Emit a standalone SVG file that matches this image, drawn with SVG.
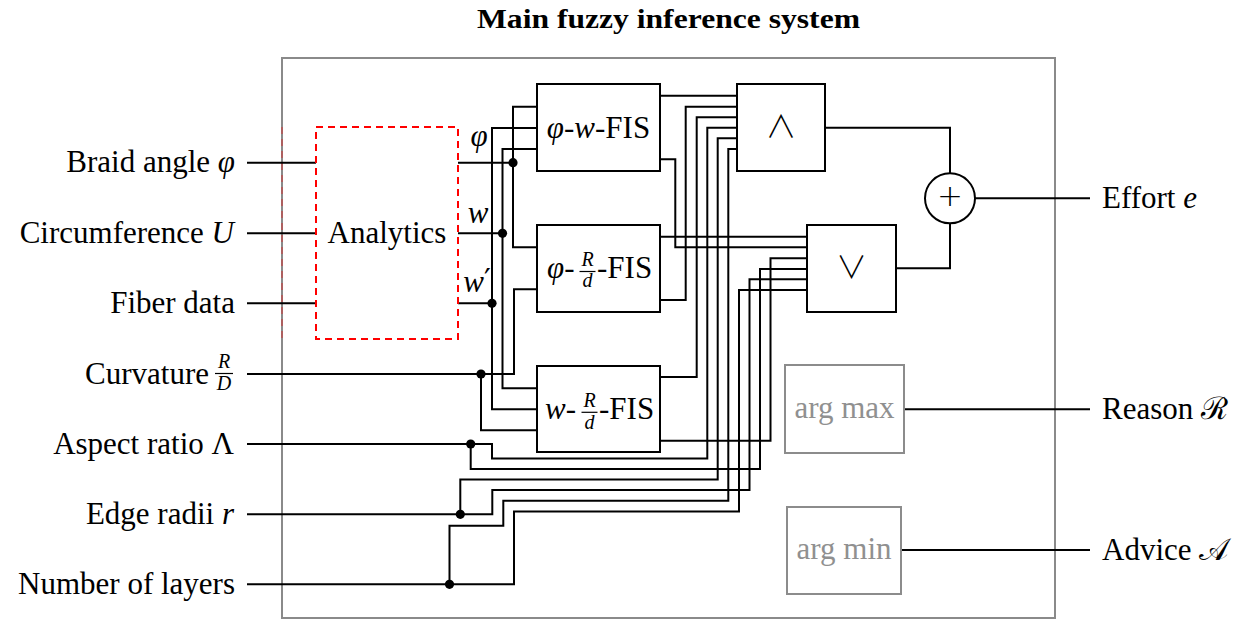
<svg xmlns="http://www.w3.org/2000/svg" width="1234" height="621" viewBox="0 0 1234 621">
  <defs>
    <style>
      .frame{fill:none;stroke:#8a8a8a;stroke-width:2}
      .blk{fill:#fff;stroke:#000;stroke-width:2}
      .ghost{fill:#fff;stroke:#8c8c8c;stroke-width:2}
      .dash{fill:none;stroke:#ff0000;stroke-width:2;stroke-dasharray:7 5}
      .wire{fill:none;stroke:#000;stroke-width:2;stroke-linejoin:miter}
      .dot{fill:#000}
      .bar{stroke:#000;stroke-width:1.2}
      text{font-family:"Liberation Serif","Times New Roman",serif;font-size:31px;fill:#000}
      .it{font-style:italic}
      .frac{font-size:20px}
      .sym{font-family:"DejaVu Sans",sans-serif;font-weight:200}
      .logic{font-family:"Noto Sans CJK JP","DejaVu Sans",sans-serif;font-weight:300}
      .grey{fill:#909090}
      .title{font-weight:bold;font-size:27px}
    </style>
  </defs>

  <rect width="1234" height="621" fill="#fff"/>

  <!-- title and enclosing system frame -->
  <text class="title" x="668.5" y="28" text-anchor="middle" textLength="383" lengthAdjust="spacingAndGlyphs">Main fuzzy inference system</text>
  <rect class="frame" x="282" y="58" width="773" height="560"/>
  <line x1="282" y1="127" x2="282" y2="339" stroke="#ff0000" stroke-width="2" stroke-dasharray="7 5" opacity="0.3"/>

  <!-- input labels -->
  <g id="inputs">
    <text x="235" y="172" text-anchor="end">Braid angle <tspan class="it">φ</tspan></text>
    <text x="234" y="243" text-anchor="end">Circumference <tspan class="it">U</tspan></text>
    <text x="235" y="313" text-anchor="end">Fiber data</text>
    <text x="209" y="384" text-anchor="end">Curvature</text>
    <text class="frac it" x="224" y="368" text-anchor="middle">R</text>
    <line class="bar" x1="215" y1="373.5" x2="233" y2="373.5"/>
    <text class="frac it" x="224" y="390" text-anchor="middle">D</text>
    <text x="234" y="454" text-anchor="end">Aspect ratio Λ</text>
    <text x="234" y="524" text-anchor="end">Edge radii <tspan class="it">r</tspan></text>
    <text x="235" y="594" text-anchor="end">Number of layers</text>
  </g>

  <!-- output labels -->
  <g id="outputs">
    <text x="1102" y="208">Effort <tspan class="it">e</tspan></text>
    <text x="1102" y="419">Reason <tspan>ℛ</tspan></text>
    <text x="1102" y="560">Advice <tspan>𝒜</tspan></text>
  </g>

  <!-- connectors -->
  <g id="connectors" class="wire">
    <!-- raw inputs into the analytics stage -->
    <path d="M247 162.7H316M247 233.3H316M247 303.3H316"/>
    <!-- analytics outputs -->
    <path d="M458 162.7H513M458 233.3H502M458 303.3H492"/>
    <!-- phi -->
    <path d="M537 106.7H513V247.3H537"/>
    <!-- w -->
    <path d="M537 149H502.5V388.3H537"/>
    <!-- w' -->
    <path d="M537 128H492V409.3H537"/>
    <!-- curvature -->
    <path d="M247 374H514V289.3H537"/>
    <path d="M481 374V430.3H537"/>
    <!-- aspect ratio -->
    <path d="M247 444H492V458.5H707.3V127.7H737"/>
    <path d="M470.7 444V469H760V269H807"/>
    <!-- edge radii -->
    <path d="M247 514.3H492.3V490H749.5V279.3H807"/>
    <path d="M460.3 514.3V479.5H717.7V138.3H737"/>
    <!-- number of layers -->
    <path d="M247 584.3H514V511.5H739V290H807"/>
    <path d="M449.5 584.3V525.7H503.3V500.7H728.3V149H737"/>
    <!-- FIS outputs -->
    <path d="M660 95.7H737"/>
    <path d="M660 159.3H675.3V247.3H807"/>
    <path d="M660 236.7H807"/>
    <path d="M660 300H685.7V106.7H737"/>
    <path d="M660 377H696.7V117.3H737"/>
    <path d="M660 440.7H770.5V258.3H807"/>
    <!-- aggregation -->
    <path d="M825 127.7H950V173"/>
    <path d="M896 268.3H950V223.5"/>
    <path d="M975 198.3H1090"/>
    <path d="M904 409.3H1090"/>
    <path d="M901 550H1090"/>
  </g>

  <!-- branch points -->
  <g id="junctions" class="dot">
    <circle cx="513" cy="162.7" r="4.6"/>
    <circle cx="502.5" cy="233.3" r="4.6"/>
    <circle cx="492" cy="303.3" r="4.6"/>
    <circle cx="481" cy="374" r="4.6"/>
    <circle cx="470.7" cy="444" r="4.6"/>
    <circle cx="460.3" cy="514.3" r="4.6"/>
    <circle cx="449.5" cy="584.3" r="4.6"/>
  </g>

  <!-- analytics stage -->
  <g id="analytics">
    <rect class="dash" x="316" y="127" width="142" height="212"/>
    <text x="387" y="243" text-anchor="middle">Analytics</text>
    <text class="it" x="479" y="146" text-anchor="middle">φ</text>
    <text class="it" x="478" y="223" text-anchor="middle">w</text>
    <text x="477" y="292" text-anchor="middle"><tspan class="it">w</tspan><tspan font-family="DejaVu Serif" font-size="30" dy="-2">′</tspan></text>
  </g>

  <g id="fis-phi-w">
    <rect class="blk" x="537" y="84" width="123" height="87"/>
    <text x="598.5" y="138" text-anchor="middle"><tspan class="it">φ</tspan>-<tspan class="it">w</tspan>-FIS</text>
  </g>

  <g id="fis-phi-rd">
    <rect class="blk" x="537" y="225" width="123" height="87"/>
    <text x="547" y="278"><tspan class="it">φ</tspan>-</text>
    <text class="frac it" x="587.5" y="265.5" text-anchor="middle">R</text>
    <line class="bar" x1="579.5" y1="271.5" x2="595.5" y2="271.5"/>
    <text class="frac it" x="587.5" y="287" text-anchor="middle">d</text>
    <text x="597" y="278">-FIS</text>
  </g>

  <g id="fis-w-rd">
    <rect class="blk" x="537" y="366" width="123" height="86"/>
    <text x="545" y="419"><tspan class="it">w</tspan>-</text>
    <text class="frac it" x="589.5" y="406.5" text-anchor="middle">R</text>
    <line class="bar" x1="581.5" y1="412.3" x2="597.5" y2="412.3"/>
    <text class="frac it" x="589.5" y="428.5" text-anchor="middle">d</text>
    <text x="599" y="419">-FIS</text>
  </g>

  <g id="and-node">
    <rect class="blk" x="737" y="84" width="88" height="87"/>
    <text class="logic" x="781" y="137" text-anchor="middle" font-size="24">∧</text>
  </g>

  <g id="or-node">
    <rect class="blk" x="807" y="225" width="89" height="87"/>
    <text class="logic" x="851.5" y="278" text-anchor="middle" font-size="24">∨</text>
  </g>

  <g id="sum-node">
    <circle class="blk" cx="950" cy="198.3" r="25"/>
    <text class="sym" x="950" y="205.5" text-anchor="middle" font-size="21">+</text>
  </g>

  <g id="argmax-node">
    <rect class="ghost" x="785" y="365" width="119" height="88"/>
    <text class="grey" x="844.5" y="418" text-anchor="middle" font-size="28">arg max</text>
  </g>

  <g id="argmin-node">
    <rect class="ghost" x="787" y="507" width="114" height="87"/>
    <text class="grey" x="844" y="559" text-anchor="middle" font-size="28">arg min</text>
  </g>
</svg>
